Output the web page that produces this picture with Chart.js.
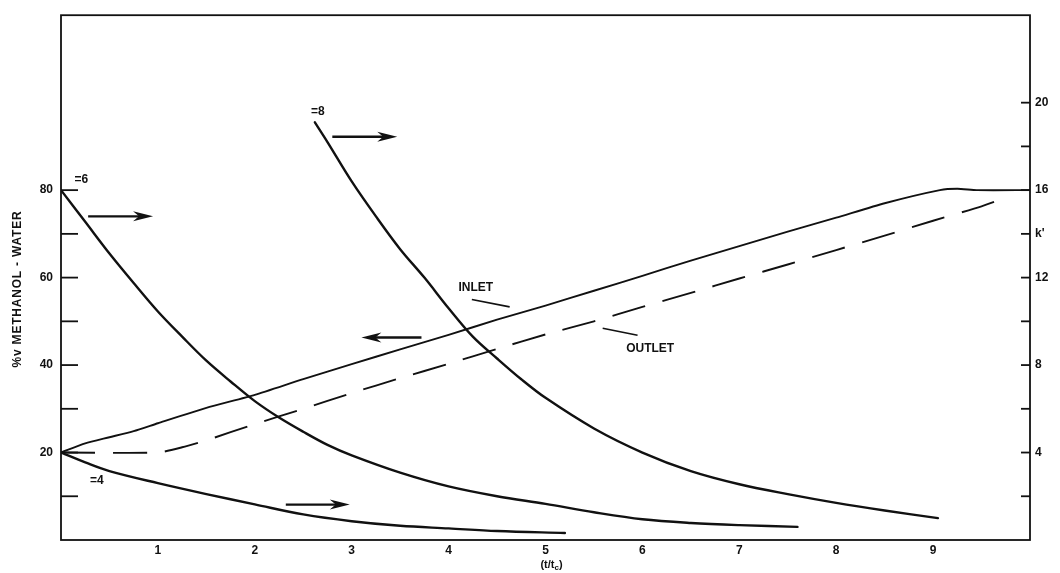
<!DOCTYPE html>
<html><head><meta charset="utf-8">
<script src="https://cdn.jsdelivr.net/npm/chart.js@4.4.0/dist/chart.umd.min.js"></script>
<style>html,body{margin:0;padding:0;background:#fff}#wrap{width:1060px;height:573px}</style>
</head><body><div id="wrap"><canvas id="c" width="1060" height="573"></canvas></div>
<script>
// ---- data ----
const xTickValues = [1,2,3,4,5,6,7,8,9];
const xTickLabels = ['1','2','3','4','5','6','7','8','9'];
const leftTickValues = [20,40,60,80];
const leftTickLabels = ['20','40','60','80'];
const rightTickValues = [4,8,12,14,16,20];
const rightTickLabels = ['4','8','12',"k'",'16','20'];

const inletT   = [0,0.25,0.5,0.75,1,1.5,2,2.5,3,3.5,4,4.5,5,5.5,6,6.5,7,7.5,8,8.5,9.07,9.25,9.45,10];
const inletPct = [20,22.1,23.5,24.9,26.7,30.2,33.2,36.8,40.2,43.6,46.9,50.4,53.6,57,60.4,63.9,67.2,70.5,73.7,77,80,80.3,80,80];

const outletT   = [0,1,1.25,1.5,2,2.5,3,3.5,4,4.5,5,5.5,6,6.5,7,7.5,8,8.5,9,9.5,9.76];
const outletPct = [20,20,21.2,22.8,26.5,30,33.6,37,40.3,43.7,47,50,53.3,56.5,59.8,63,66.3,69.6,73,76.3,78.4];

const k6T = [0,0.25,0.5,0.75,1,1.25,1.5,1.75,2,2.25,2.5,2.75,3,3.5,4,4.5,5,5.5,6,6.5,7,7.6];
const k6V = [16,14.55,13.1,11.75,10.45,9.3,8.2,7.25,6.35,5.6,4.95,4.35,3.87,3.08,2.45,2.0,1.65,1.27,0.95,0.78,0.68,0.6];

const k4T = [0,0.25,0.5,1,1.5,2,2.5,3,3.5,4,4.5,5.2];
const k4V = [4,3.55,3.15,2.6,2.1,1.63,1.17,0.86,0.65,0.53,0.41,0.32];

const k8T = [2.62,2.75,3,3.25,3.5,3.75,4,4.25,4.5,4.75,5,5.5,6,6.5,7,7.5,8,8.5,9.05];
const k8V = [19.1,18.2,16.4,14.8,13.3,12.0,10.6,9.3,8.3,7.35,6.5,5.1,4.0,3.15,2.55,2.1,1.7,1.35,1.0];

// annotation positions (data units: x, left axis %)
const arrowList = [
  {x1:0.28, x2:0.95, y:74.0},
  {x1:2.80, x2:3.47, y:92.2},
  {x1:3.72, x2:3.10, y:46.3},
  {x1:2.32, x2:2.98, y:8.1}
];
const textList = [
  {t:'=6', x:0.14, y:82.4, align:'left'},
  {t:'=4', x:0.30, y:13.5, align:'left'},
  {t:'=8', x:2.58, y:98.0, align:'left'},
  {t:'INLET', x:4.28, y:57.6, align:'center'},
  {t:'OUTLET', x:6.08, y:43.8, align:'center'}
];
const leaderList = [
  {x1:4.24, y1:55.0, x2:4.63, y2:53.3},
  {x1:5.59, y1:48.4, x2:5.95, y2:46.8}
];

const pts = (xs, ys) => xs.map((x,i)=>({x:x, y:ys[i]}));
const FONT = '"Liberation Sans", Arial, sans-serif';
const INK = '#111';

const framePlugin = {
  id:'frame',
  afterDraw(chart){
    const {ctx, chartArea:a, scales} = chart;
    ctx.save();
    ctx.strokeStyle = INK; ctx.lineWidth = 1.8;
    ctx.strokeRect(a.left, a.top, a.right-a.left, a.bottom-a.top);
    // inside tick marks
    for (let v=10; v<=80; v+=10){
      const py = scales.y.getPixelForValue(v);
      ctx.beginPath(); ctx.moveTo(a.left, py); ctx.lineTo(a.left+17, py); ctx.stroke();
    }
    for (let v=2; v<=20; v+=2){
      const py = scales.y2.getPixelForValue(v);
      ctx.beginPath(); ctx.moveTo(a.right, py); ctx.lineTo(a.right-9, py); ctx.stroke();
    }
    // arrows
    ctx.fillStyle = INK; ctx.lineWidth = 2.4;
    arrowList.forEach(ar=>{
      const x1 = scales.x.getPixelForValue(ar.x1), x2 = scales.x.getPixelForValue(ar.x2);
      const py = scales.y.getPixelForValue(ar.y);
      const dir = Math.sign(x2-x1), hl = 20, hw = 5;
      ctx.beginPath(); ctx.moveTo(x1, py); ctx.lineTo(x2-dir*hl*0.6, py); ctx.stroke();
      ctx.beginPath(); ctx.moveTo(x2, py); ctx.lineTo(x2-dir*hl, py-hw); ctx.lineTo(x2-dir*hl*0.7, py); ctx.lineTo(x2-dir*hl, py+hw); ctx.closePath(); ctx.fill();
    });
    // leaders
    ctx.lineWidth = 1.6;
    leaderList.forEach(l=>{
      ctx.beginPath();
      ctx.moveTo(scales.x.getPixelForValue(l.x1), scales.y.getPixelForValue(l.y1));
      ctx.lineTo(scales.x.getPixelForValue(l.x2), scales.y.getPixelForValue(l.y2));
      ctx.stroke();
    });
    // labels
    ctx.font = 'bold 12px ' + FONT; ctx.textBaseline = 'middle';
    textList.forEach(tx=>{
      ctx.textAlign = tx.align;
      ctx.fillText(tx.t, scales.x.getPixelForValue(tx.x), scales.y.getPixelForValue(tx.y));
    });
    // y title
    ctx.save();
    ctx.translate(18, 289); ctx.rotate(-Math.PI/2);
    ctx.font = 'bold 12px ' + FONT; ctx.textAlign = 'center'; ctx.textBaseline='middle';
    try { ctx.letterSpacing = '0.8px'; } catch(e){}
    ctx.fillText('%v METHANOL - WATER', 0, 0);
    ctx.restore();
    // x title with subscript
    ctx.textAlign='left'; ctx.textBaseline='alphabetic';
    const p1 = '(t/t', p3 = ')';
    ctx.font = 'bold 11px ' + FONT; const w1 = ctx.measureText(p1).width, w3 = ctx.measureText(p3).width;
    ctx.font = 'bold 8px ' + FONT; const w2 = ctx.measureText('c').width;
    let sx = (a.left+a.right)/2 - (w1+w2+w3)/2 + 6; const sy = 568;
    ctx.font = 'bold 11px ' + FONT; ctx.fillText(p1, sx, sy); sx += w1;
    ctx.font = 'bold 8px ' + FONT; ctx.fillText('c', sx, sy+2); sx += w2;
    ctx.font = 'bold 11px ' + FONT; ctx.fillText(p3, sx, sy);
    ctx.restore();
  }
};

const solid = {borderColor:INK, pointRadius:0, fill:false, tension:0.35, borderCapStyle:'round', borderJoinStyle:'round'};

new Chart(document.getElementById('c'), {
  type:'line',
  data:{datasets:[
    Object.assign({label:'INLET', data:pts(inletT, inletPct), yAxisID:'y', borderWidth:1.9}, solid, {tension:0.2}),
    Object.assign({label:'OUTLET', data:pts(outletT, outletPct), yAxisID:'y', borderWidth:1.9, borderDash:[34,18]}, solid, {tension:0.2, borderCapStyle:'butt'}),
    Object.assign({label:'k6', data:pts(k6T, k6V), yAxisID:'y2', borderWidth:2.4}, solid),
    Object.assign({label:'k4', data:pts(k4T, k4V), yAxisID:'y2', borderWidth:2.4}, solid),
    Object.assign({label:'k8', data:pts(k8T, k8V), yAxisID:'y2', borderWidth:2.4}, solid)
  ]},
  options:{
    responsive:false, animation:false, devicePixelRatio:1,
    layout:{padding:{top:12, left:0, right:0, bottom:0}},
    plugins:{legend:{display:false}, tooltip:{enabled:false}, title:{display:false}},
    scales:{
      x:{type:'linear', min:0, max:10, position:'bottom',
        afterFit(s){ s.height = 33; },
        afterBuildTicks(s){ s.ticks = xTickValues.map(v=>({value:v})); },
        ticks:{autoSkip:false, maxRotation:0, padding:3, color:INK, font:{family:FONT, size:12, weight:'bold'},
          callback:(v)=>{ const i = xTickValues.indexOf(v); return i>=0 ? xTickLabels[i] : ''; }},
        grid:{display:false, drawTicks:false}, border:{display:false}},
      y:{type:'linear', min:0, max:120, position:'left',
        afterFit(s){ s.width = 61; },
        afterBuildTicks(s){ s.ticks = leftTickValues.map(v=>({value:v})); },
        ticks:{autoSkip:false, padding:8, color:INK, font:{family:FONT, size:12, weight:'bold'},
          callback:(v)=>{ const i = leftTickValues.indexOf(v); return i>=0 ? leftTickLabels[i] : ''; }},
        grid:{display:false, drawTicks:false}, border:{display:false}},
      y2:{type:'linear', min:0, max:24, position:'right',
        afterFit(s){ s.width = 30; },
        afterBuildTicks(s){ s.ticks = rightTickValues.map(v=>({value:v})); },
        ticks:{autoSkip:false, padding:5, color:INK, font:{family:FONT, size:12, weight:'bold'},
          callback:(v)=>{ const i = rightTickValues.indexOf(v); return i>=0 ? rightTickLabels[i] : ''; }},
        grid:{display:false, drawTicks:false}, border:{display:false}}
    }
  },
  plugins:[framePlugin]
});
</script></body></html>
